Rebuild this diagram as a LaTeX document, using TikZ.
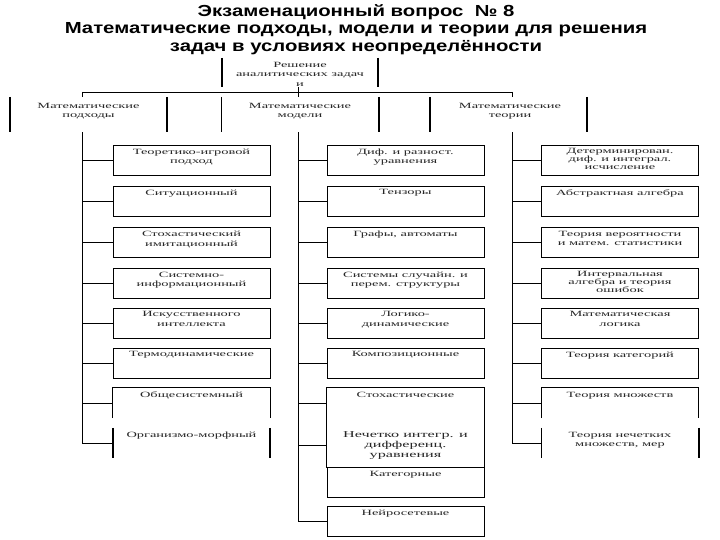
\documentclass[tikz,border=0pt]{standalone}
\usepackage{fontspec}
\setmainfont{Liberation Serif}
\newfontfamily\titlefont{Liberation Sans}[FakeStretch=1.27]
\newfontfamily\boxfont{Liberation Serif}[FakeStretch=1.8]
\tikzset{
  bx/.style={draw, line width=0.9pt, minimum width=157pt, minimum height=30pt, inner sep=0pt},
  pbx/.style={minimum width=157pt, minimum height=30pt, inner sep=0pt},
  lbl/.style={font=\boxfont\fontsize{8}{9.5}\selectfont, align=center, anchor=north, inner sep=0pt, yshift=-4pt, text=black!85},
  side/.style={line width=1.6pt},
  conn/.style={line width=0.9pt},
  ttl/.style={font=\titlefont\bfseries\fontsize{16}{17.5}\selectfont, align=center, inner sep=0pt}
}
\newcommand\mkbox[4]{\node[bx, label={[lbl]north:{#4}}] (#1) at (#2,#3) {};}
\begin{document}
\begin{tikzpicture}[x=1pt,y=-1pt]
\useasboundingbox[fill=white] (0,0) rectangle (720,540);
% title
\node[ttl, anchor=north] (title) at (356,4) {Экзаменационный вопрос \ № 8\\Математические подходы, модели и теории для решения\\задач в условиях неопределённости};
% top box
\node[pbx, minimum width=156pt, minimum height=29pt] (top) at (300,72.5) {};
\node[lbl, anchor=north, yshift=0pt] (topt) at (300,58) {Решение\\аналитических задач\\и};
\draw[side] (top.north west) -- (top.south west);
\draw[side] (top.north east) -- (top.south east);
% level 2
\node[pbx, minimum height=35pt] (h1) at (88.5,114.5) {};
\node[pbx, minimum height=35pt] (h2) at (300,114.5) {};
\node[pbx, minimum height=35pt] (h3) at (508.5,114.5) {};
\node[lbl, yshift=0pt] (h1t) at (88.5,99) {Математические\\подходы};
\node[lbl, yshift=0pt] (h2t) at (300,99) {Математические\\модели};
\node[lbl, yshift=0pt] (h3t) at (510,99) {Математические\\теории};
\foreach \h in {h1,h2,h3}{
  \draw[side] (\h.north west) -- (\h.south west);
  \draw[side] (\h.north east) -- (\h.south east);
}
% bus
\coordinate (bL) at (82,92);
\coordinate (bM) at (298,92);
\coordinate (bR) at (512,92);
\draw[conn] (bL) -- (bR);
\draw[conn] (bM |- top.south) -- (bM |- h2.north);
\draw[conn] (bL) -- (bL |- h1.north);
\draw[conn] (bR) -- (bR |- h3.north);
% left column
\mkbox{l1}{191.5}{160}{Теоретико-игровой\\подход}
\mkbox{l2}{191.5}{201}{Ситуационный}
\mkbox{l3}{191.5}{242.5}{Стохастический\\имитационный}
\mkbox{l4}{191.5}{283}{Системно-\\информационный}
\mkbox{l5}{191.5}{323}{Искусственного\\интеллекта}
\mkbox{l6}{191.5}{363}{Термодинамические}
\node[pbx, label={[lbl]north:{Общесистемный}}] (l7) at (191.5,403) {};
\node[pbx, label={[lbl]north:{Организмо-морфный}}] (l8) at (191.5,443) {};
% middle column
\mkbox{m1}{405.5}{160}{Диф. и разност.\\уравнения}
\mkbox{m2}{405.5}{201}{Тензоры}
\mkbox{m3}{405.5}{242.5}{Графы, автоматы}
\mkbox{m4}{405.5}{283}{Системы случайн. и\\перем. структуры}
\mkbox{m5}{405.5}{323}{Логико-\\динамические}
\mkbox{m6}{405.5}{363}{Композиционные}
\node[pbx, label={[lbl]north:{Стохастические}}] (m7) at (405.5,403) {};
\node[pbx, minimum height=49pt] (m8) at (405.5,442.5) {};
\node[lbl, yshift=0pt, font=\boxfont\fontsize{9}{10}\selectfont] (m8t) at (405.5,427) {Нечетко интегр. и\\дифференц.\\уравнения};
\mkbox{m9}{405.5}{482.5}{Категорные}
\mkbox{m10}{405.5}{521.5}{Нейросетевые}
% right column
\mkbox{r1}{620}{160}{Детерминирован.\\[-1.5pt]диф. и интеграл.\\[-1.5pt]исчисление}
\mkbox{r2}{620}{201}{Абстрактная алгебра}
\mkbox{r3}{620}{242.5}{Теория вероятности\\и матем. статистики}
\mkbox{r4}{620}{283}{Интервальная\\[-1.5pt]алгебра и теория\\[-1.5pt]ошибок}
\mkbox{r5}{620}{323}{Математическая\\логика}
\mkbox{r6}{620}{363}{Теория категорий}
\node[pbx, label={[lbl]north:{Теория множеств}}] (r7) at (620,403) {};
\node[pbx, label={[lbl]north:{Теория нечетких\\множеств, мер}}] (r8) at (620,443) {};
% partial outlines of lower boxes
\foreach \b in {l7,r7,m7}{
  \draw[conn] (\b.south west) -- (\b.north west) -- (\b.north east) -- (\b.south east);
}
\foreach \b in {l8,r8}{
  \draw[side] (\b.north west) -- (\b.south west);
  \draw[side] (\b.north east) -- (\b.south east);
}
\draw[conn] (m8.north west) -- (m8.south west) -- (m8.south east) -- (m8.north east);
% trunks and branches
\draw[conn] (bL |- h1.south) |- (l8.west);
\foreach \i in {1,...,7}{ \draw[conn] (bL |- l\i.west) -- (l\i.west); }
\draw[conn] (bM |- h2.south) |- (m10.west);
\foreach \i in {1,...,7}{ \draw[conn] (bM |- m\i.west) -- (m\i.west); }
\draw[conn] (bM |- m8t.center) -- (m8t.center -| m8.west);
\draw[conn] (bR |- h3.south) |- (r8.west);
\foreach \i in {1,...,7}{ \draw[conn] (bR |- r\i.west) -- (r\i.west); }
\end{tikzpicture}
\end{document}
